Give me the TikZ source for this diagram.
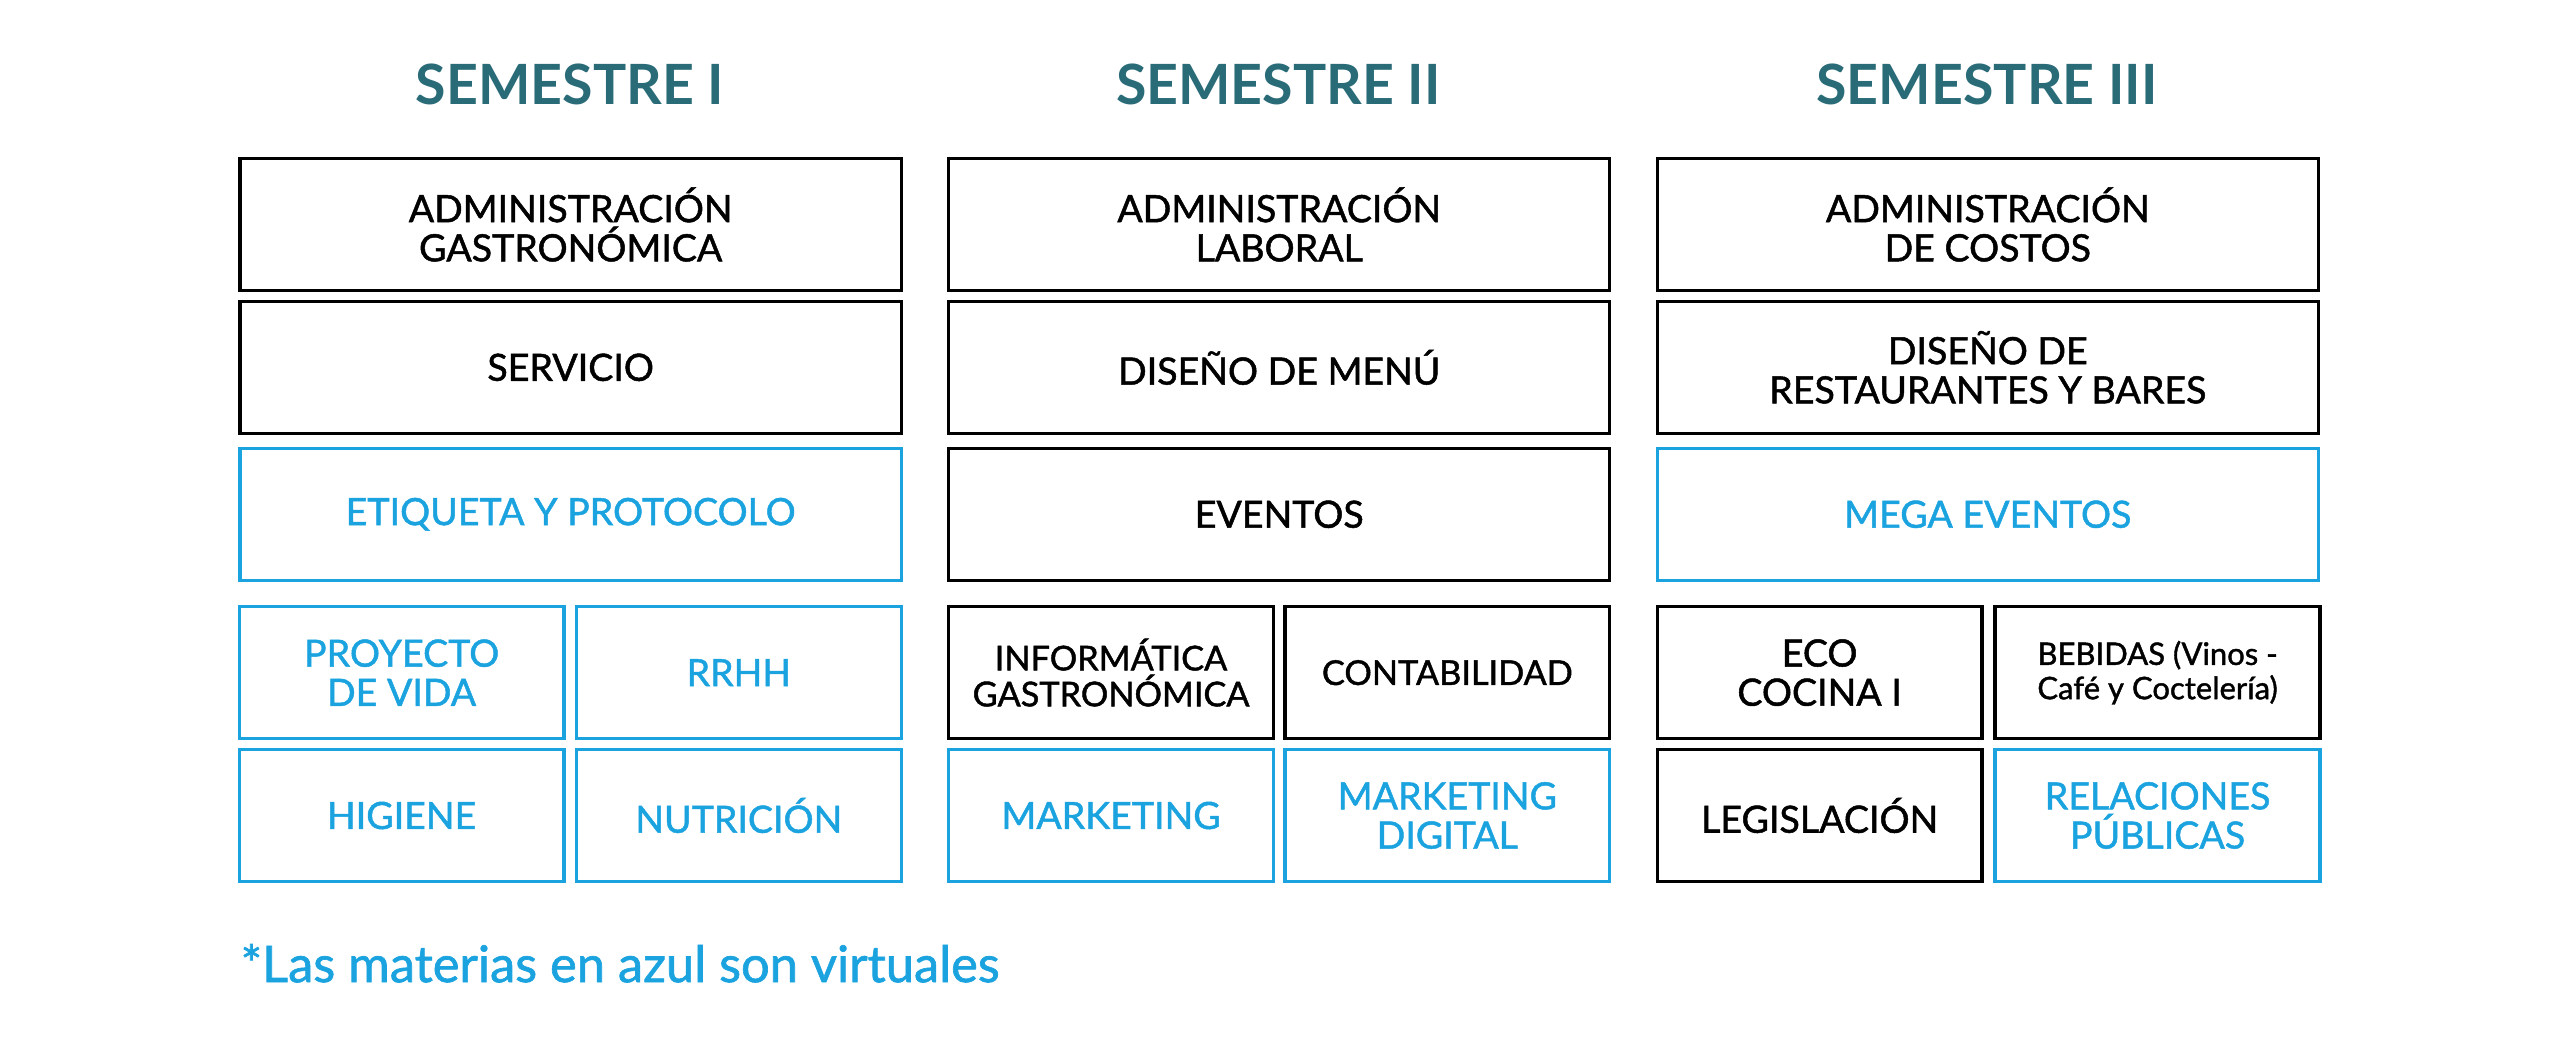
\documentclass[tikz,border=0pt]{standalone}
\usepackage{fontspec}
\setmainfont{Lato}
\newfontfamily\medf[FakeBold=1.3]{Lato}
\definecolor{teal1}{HTML}{2A6B78}
\definecolor{blu}{HTML}{1BA3E0}
\begin{document}
\begin{tikzpicture}[x=0.5pt,y=-0.5pt,
 box/.style={draw=black,line width=1pt,minimum height=40.5pt,align=center,font=\medf\fontsize{11.5}{12}\selectfont,inner sep=1pt},
 wide/.style={box,minimum width=202.5pt},
 half/.style={box,minimum width=99.5pt},
 virt/.style={draw=blu,text=blu},
 head/.style={text=teal1,font=\fontsize{17}{19}\selectfont\bfseries}]
\useasboundingbox (0,0) rectangle (1568,642);
\node[head] (h1) at (349,52) {SEMESTRE I};
\node[head] (h2) at (783,52) {SEMESTRE II};
\node[head] (h3) at (1217,52) {SEMESTRE III};
% column 1
\node[wide] (a1) at (349.5,137.5) {ADMINISTRACIÓN\\GASTRONÓMICA};
\node[wide] (a2) at (349.5,225) {SERVICIO};
\node[wide,virt] (a3) at (349.5,315) {ETIQUETA Y PROTOCOLO};
\node[half,virt] (a4) at (246,412) {PROYECTO\\DE VIDA};
\node[half,virt] (a5) at (452.5,412) {RRHH};
\node[half,virt] (a6) at (246,499.5) {HIGIENE};
\node[half,virt] (a7) at (452.5,499.5) {NUTRICIÓN};
% column 2
\node[wide] (b1) at (783.5,137.5) {ADMINISTRACIÓN\\LABORAL};
\node[wide] (b2) at (783.5,225) {DISEÑO DE MENÚ};
\node[wide] (b3) at (783.5,315) {EVENTOS};
\node[half,font=\medf\fontsize{10.5}{11}\selectfont] (b4) at (680.5,412) {INFORMÁTICA\\GASTRONÓMICA};
\node[half,font=\medf\fontsize{10.5}{11}\selectfont] (b5) at (886.5,412) {CONTABILIDAD};
\node[half,virt] (b6) at (680.5,499.5) {MARKETING};
\node[half,virt] (b7) at (886.5,499.5) {MARKETING\\DIGITAL};
% column 3
\node[wide] (c1) at (1217.5,137.5) {ADMINISTRACIÓN\\DE COSTOS};
\node[wide] (c2) at (1217.5,225) {DISEÑO DE\\RESTAURANTES Y BARES};
\node[wide,virt] (c3) at (1217.5,315) {MEGA EVENTOS};
\node[half] (c4) at (1114.5,412) {ECO\\COCINA I};
\node[half,font=\medf\fontsize{9.5}{10.5}\selectfont] (c5) at (1321.5,412) {BEBIDAS (Vinos -\\Café y Coctelería)};
\node[half] (c6) at (1114.5,499.5) {LEGISLACIÓN};
\node[half,virt] (c7) at (1321.5,499.5) {RELACIONES\\PÚBLICAS};
\node[anchor=west,text=blu,font=\medf\fontsize{15.5}{17}\selectfont,inner sep=0] (fn) at (147,590) {*Las materias en azul son virtuales};
\end{tikzpicture}
\end{document}
